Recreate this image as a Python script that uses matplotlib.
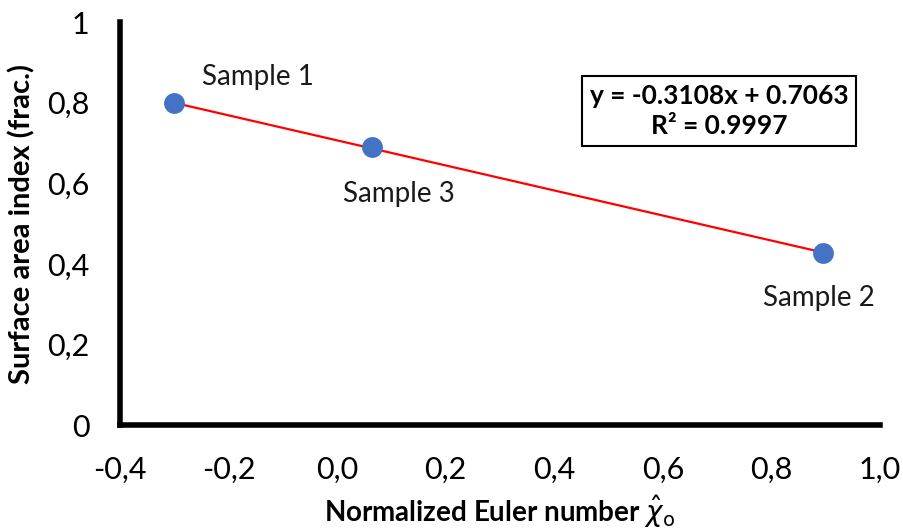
import numpy as np
import matplotlib
matplotlib.use("Agg")
import matplotlib.pyplot as plt

# ── Data ──────────────────────────────────────────────────────────────────────
euler_x = [-0.30, 0.065, 0.895]
surface_y = [0.799, 0.690, 0.428]
sample_names = ["Sample 1", "Sample 3", "Sample 2"]
label_offsets = [(60, 19), (19, -34), (-3, -33)]  # points

slope, intercept = -0.3108, 0.7063
x_ticks = [-0.4, -0.2, 0.0, 0.2, 0.4, 0.6, 0.8, 1.0]
y_ticks = [0, 0.2, 0.4, 0.6, 0.8, 1.0]

plt.rcParams["font.family"] = ["Lato", "DejaVu Sans"]
plt.rcParams["mathtext.fontset"] = "dejavusans"

fig = plt.figure(figsize=(9.04, 5.32), dpi=100)
ax = fig.add_axes([0.1327, 0.2011, 0.8408, 0.7575])

# trendline across data range
xs = np.array([min(euler_x), max(euler_x)])
ax.plot(xs, slope * xs + intercept, color="#FF0000", linewidth=1.6, zorder=2)
ax.plot(euler_x, surface_y, "o", color="#4472C4", markersize=15,
        markeredgewidth=0, zorder=3)

for x, y, name, off in zip(euler_x, surface_y, sample_names, label_offsets):
    ax.annotate(name, (x, y), xytext=off, textcoords="offset points",
                fontsize=20, color="#1a1a1a", ha="center", va="center")

ax.text(0.788, 0.779, f"y = {slope:.4f}x + {intercept:.4f}\nR² = 0.9997",
        transform=ax.transAxes, ha="center", va="center", fontsize=19,
        fontweight="bold", linespacing=1.3,
        bbox=dict(boxstyle="square,pad=0.3", facecolor="white",
                  edgecolor="black", linewidth=1.5))

ax.set_xlim(-0.4, 1.0)
ax.set_ylim(0, 1)
ax.set_xticks(x_ticks)
ax.set_xticklabels([f"{v:.1f}".replace(".", ",") for v in x_ticks])
ax.set_yticks(y_ticks)
ax.set_yticklabels(["0", "0,2", "0,4", "0,6", "0,8", "1"])
ax.tick_params(length=0, labelsize=22)
ax.tick_params(axis="x", pad=22)
ax.tick_params(axis="y", pad=22)

for side in ["top", "right"]:
    ax.spines[side].set_visible(False)
for side in ["left", "bottom"]:
    ax.spines[side].set_linewidth(4)
    ax.spines[side].set_capstyle("projecting")

ax.set_xlabel(r"Normalized Euler number $\hat{\chi}_{\mathrm{o}}$",
              fontsize=20, fontweight="bold", labelpad=7)
ax.set_ylabel("Surface area index (frac.)", fontsize=21, fontweight="bold",
              labelpad=8)

plt.savefig("out.png", dpi=100)
plt.close()
